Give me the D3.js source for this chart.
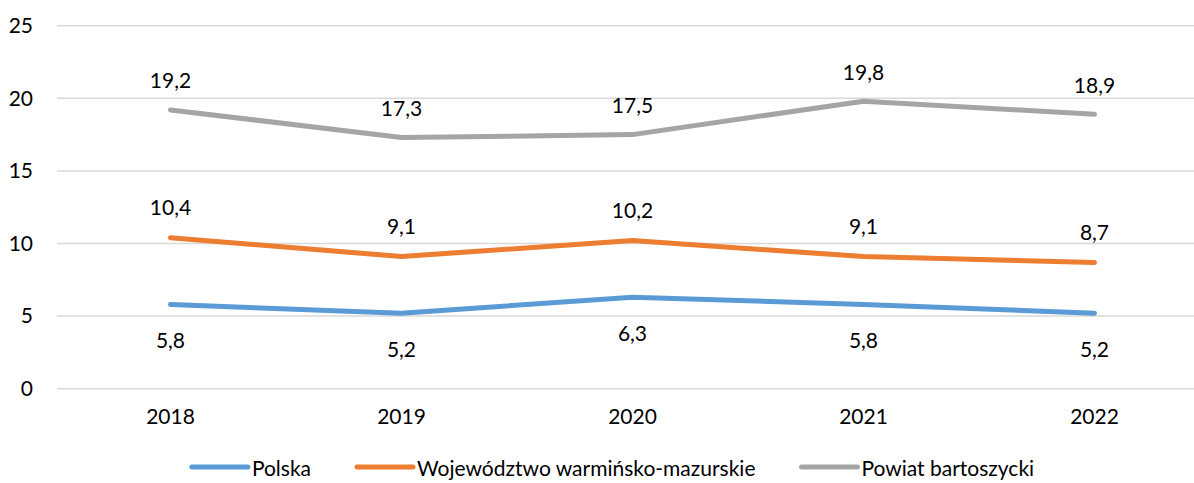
<!DOCTYPE html>
<html>
<head>
<meta charset="utf-8">
<script src="https://cdn.jsdelivr.net/npm/d3@7"></script>
<style>
  body { margin: 0; background: #fff; }
  text { font-family: Lato, "Open Sans", sans-serif; fill: #000; }
</style>
</head>
<body>
<div id="chart"></div>
<script>
var years = ["2018", "2019", "2020", "2021", "2022"];
var polska = [5.8, 5.2, 6.3, 5.8, 5.2];
var wojewodztwo = [10.4, 9.1, 10.2, 9.1, 8.7];
var powiat = [19.2, 17.3, 17.5, 19.8, 18.9];
var yTicks = [0, 5, 10, 15, 20, 25];

var seriesNames = ["Polska", "Województwo warmińsko-mazurskie", "Powiat bartoszycki"];
var seriesColors = ["#5B9BD5", "#ED7D31", "#A5A5A5"];
// label offset: below for Polska, above for the others
var labelOffsets = [35, -31, -30];

var svgWidth = 1194;
var svgHeight = 483;

var svg = d3.select("#chart")
  .append("svg")
  .attr("width", svgWidth)
  .attr("height", svgHeight);

// scales
var xScale = d3.scaleBand()
  .domain(years)
  .range([55, 1210]);

var yScale = d3.scaleLinear()
  .domain([0, 25])
  .range([388.7, 25.7]);

// gridlines
svg.append("g")
  .selectAll("line")
  .data(yTicks)
  .enter()
  .append("line")
  .attr("x1", 57)
  .attr("x2", 1210)
  .attr("y1", d => yScale(d))
  .attr("y2", d => yScale(d))
  .attr("stroke", "#D9D9D9")
  .attr("stroke-width", 1.5);

// y axis labels
var leftAxis = d3.axisLeft(yScale).tickValues(yTicks).tickSize(0).tickPadding(0);
var yAxisG = svg.append("g")
  .attr("transform", "translate(33,0)")
  .call(leftAxis);
yAxisG.select(".domain").remove();
yAxisG.selectAll("text")
  .style("font-family", "Lato, sans-serif")
  .style("font-size", "21px")
  .attr("fill", "#000");

// x axis labels
var bottomAxis = d3.axisBottom(xScale).tickSize(0).tickPadding(0);
var xAxisG = svg.append("g")
  .attr("transform", "translate(0,409)")
  .call(bottomAxis);
xAxisG.select(".domain").remove();
xAxisG.selectAll("text")
  .style("font-family", "Lato, sans-serif")
  .style("font-size", "21px")
  .attr("fill", "#000");

var allSeries = [polska, wojewodztwo, powiat];

var line = d3.line()
  .x((d, i) => xScale(years[i]) + xScale.bandwidth() / 2)
  .y(d => yScale(d));

allSeries.forEach(function(values, s) {
  svg.append("path")
    .datum(values)
    .attr("d", line)
    .attr("fill", "none")
    .attr("stroke", seriesColors[s])
    .attr("stroke-width", 5)
    .attr("stroke-linecap", "round")
    .attr("stroke-linejoin", "round");

  svg.append("g")
    .selectAll("text")
    .data(values)
    .enter()
    .append("text")
    .attr("x", (d, i) => xScale(years[i]) + xScale.bandwidth() / 2)
    .attr("y", d => yScale(d) + labelOffsets[s])
    .attr("text-anchor", "middle")
    .attr("dominant-baseline", "central")
    .style("font-size", "21px")
    .text(d => d.toFixed(1).replace(".", ","));
});

// legend
var legend = svg.append("g");
var items = legend.selectAll("g")
  .data(seriesNames)
  .enter()
  .append("g");

items.append("line")
  .attr("x1", 0)
  .attr("x2", 56)
  .attr("y1", 0)
  .attr("y2", 0)
  .attr("stroke", (d, i) => seriesColors[i])
  .attr("stroke-width", 5)
  .attr("stroke-linecap", "round");

items.append("text")
  .attr("x", 60)
  .attr("y", 0)
  .attr("dominant-baseline", "central")
  .style("font-size", "21px")
  .text(d => d);

var xPos = 0;
var positions = [];
items.each(function() {
  positions.push(xPos);
  var w = 60 + d3.select(this).select("text").node().getComputedTextLength();
  xPos += w + 46;
});
var totalW = xPos - 46;
var startX = 613 - totalW / 2;
items.attr("transform", (d, i) => `translate(${startX + positions[i]}, 467)`);
</script>
</body>
</html>
